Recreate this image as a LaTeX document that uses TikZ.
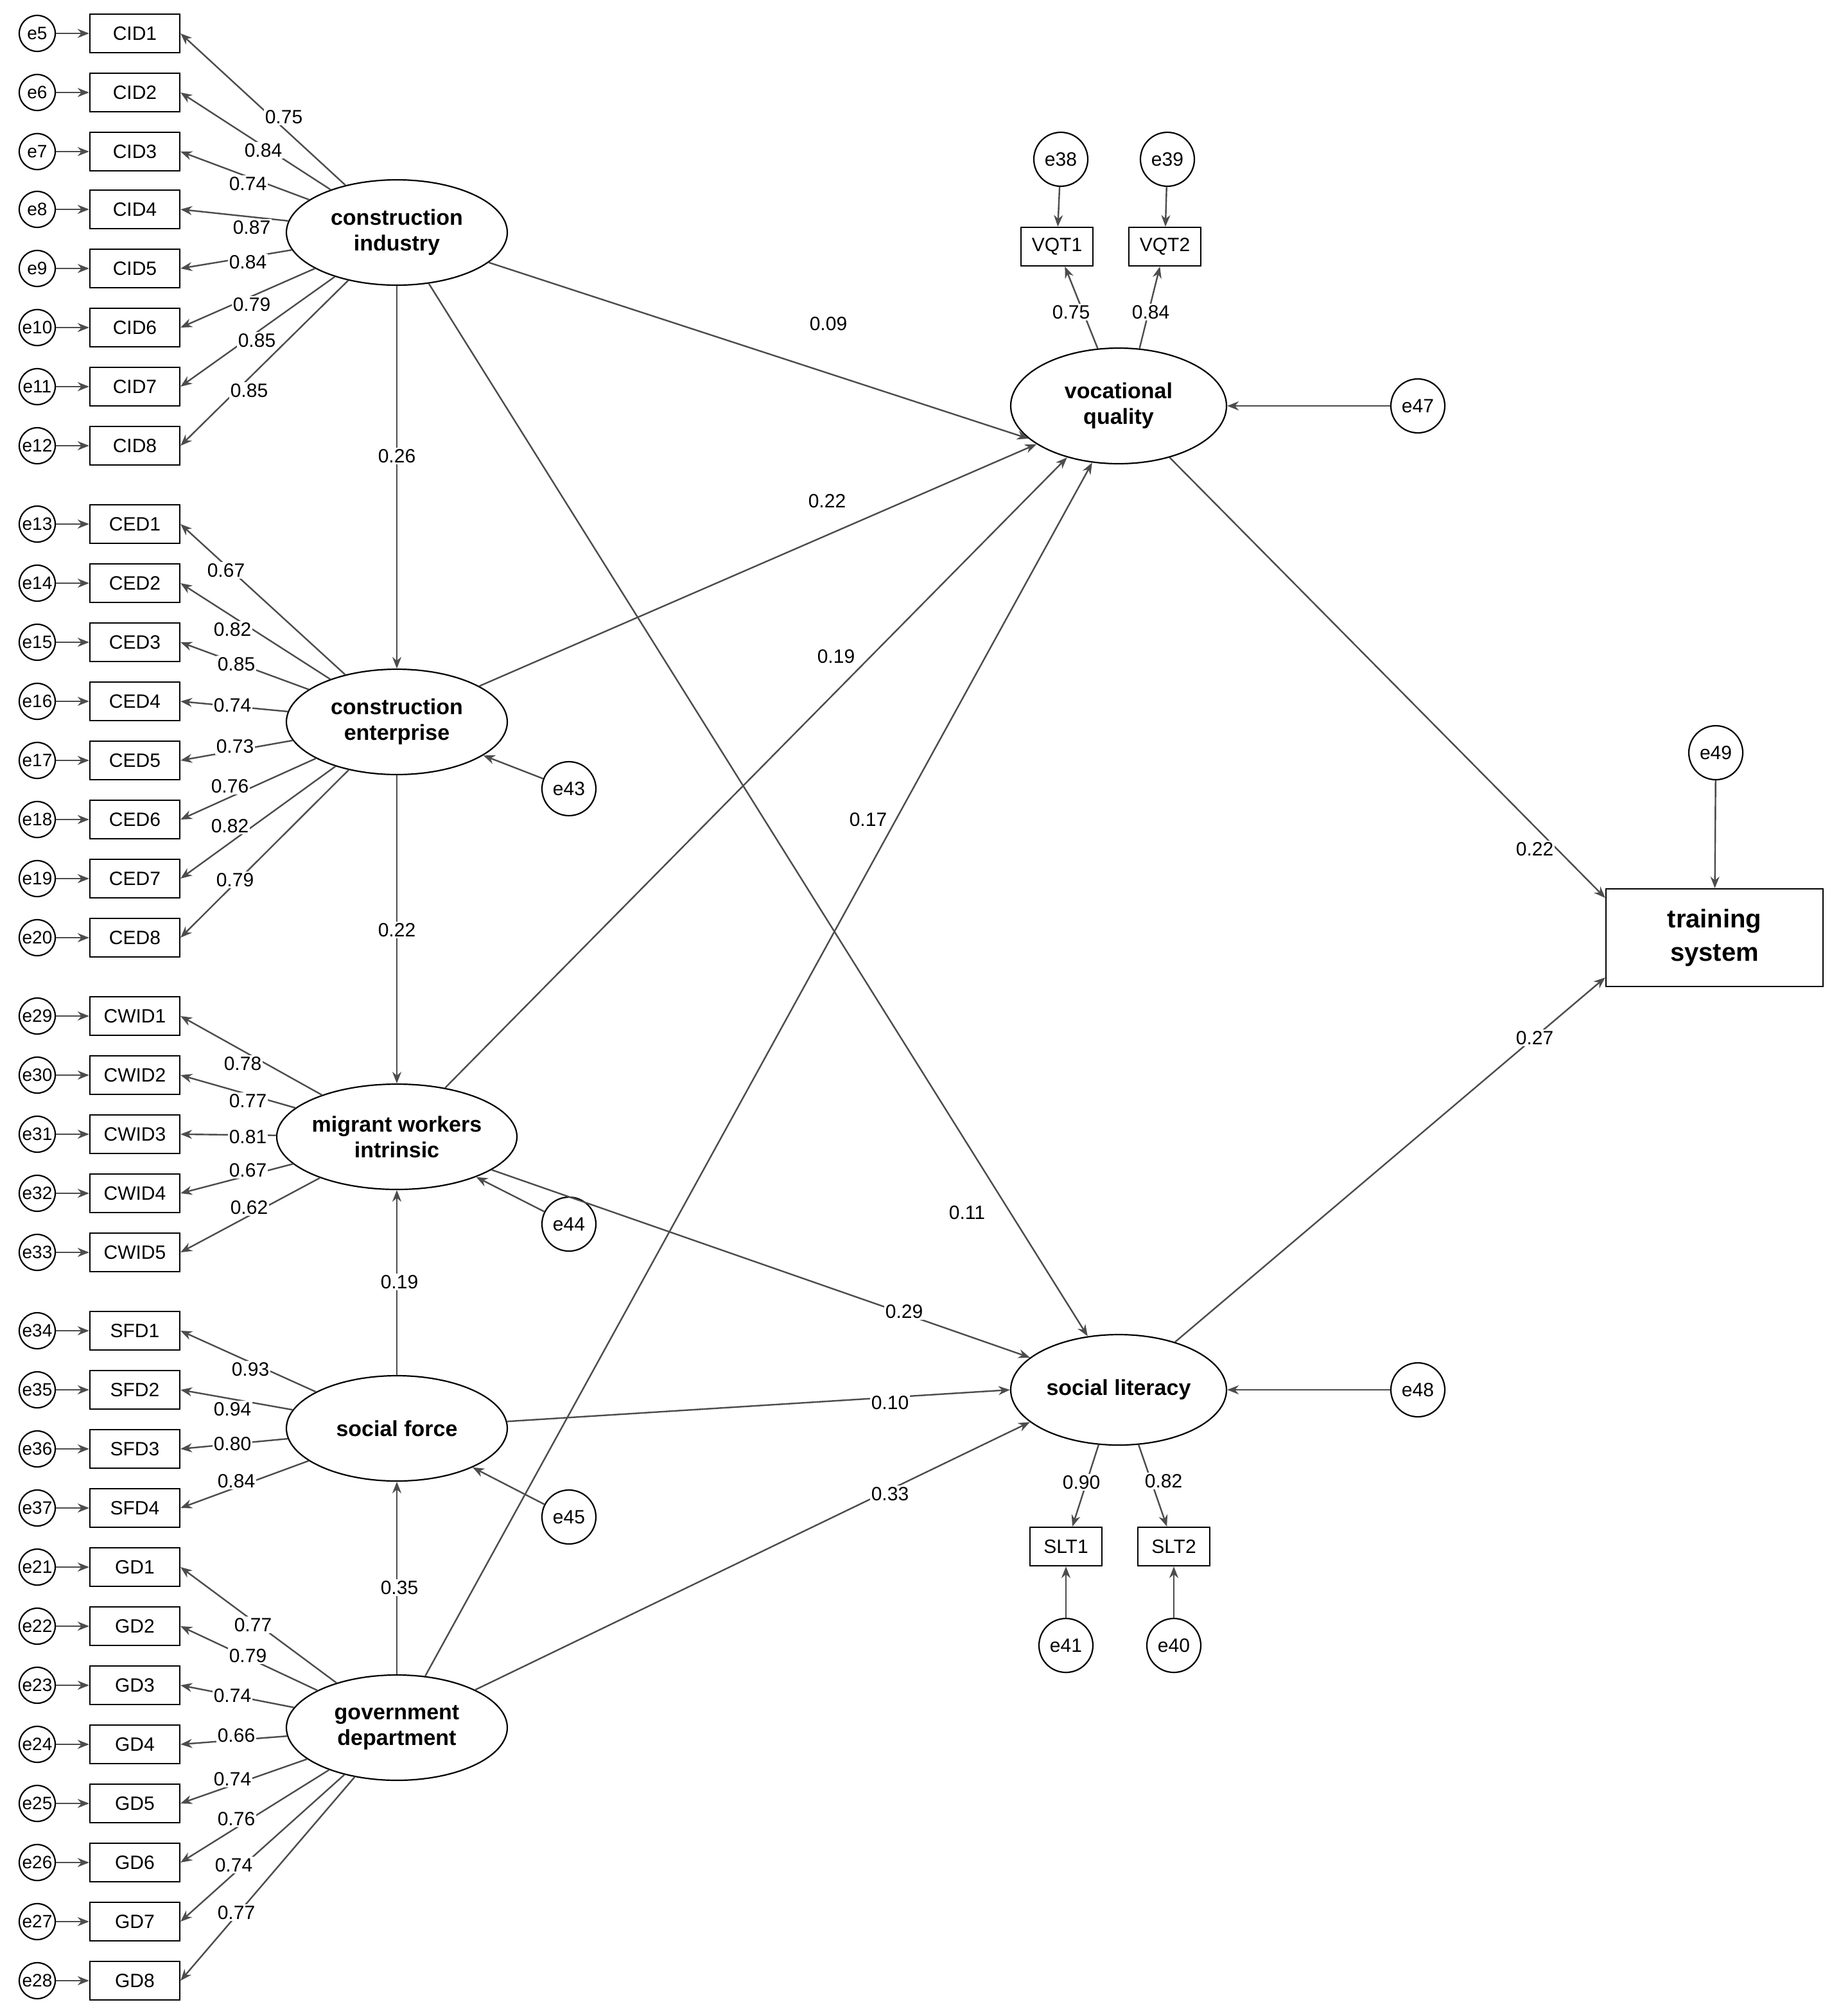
\documentclass[tikz,border=0pt]{standalone}
\usepackage{fontspec}
\setmainfont{Liberation Sans}
\usetikzlibrary{arrows.meta,shapes.geometric}
\begin{document}
\begin{tikzpicture}[x=1pt,y=-1pt,
 ln/.style={draw=black!70,line width=1.2pt,-{Stealth[length=9pt,width=7pt]}},
 ind/.style={draw,line width=1.1pt,minimum width=70pt,minimum height=30pt,inner sep=0,font=\fontsize{15}{15}\selectfont},
 sind/.style={draw,line width=1.1pt,minimum width=56pt,minimum height=30pt,inner sep=0,font=\fontsize{15}{15}\selectfont},
 err/.style={draw,circle,line width=1.1pt,minimum size=28pt,inner sep=0,font=\fontsize{14}{14}\selectfont},
 berr/.style={draw,circle,line width=1.1pt,minimum size=42pt,inner sep=0,font=\fontsize{15}{15}\selectfont},
 lat/.style={draw,ellipse,line width=1.1pt,minimum width=172pt,minimum height=82pt,inner sep=0,align=center,font=\fontsize{17}{20}\bfseries\selectfont},
 lb/.style={font=\fontsize{15}{15}\selectfont,fill=white,inner sep=1pt}]
\useasboundingbox (0,0) rectangle (1433,1569.5);
\fill[white] (0,0) rectangle (1433,1569.5);
% latents
\node[lat] (CI) at (309,181) {construction\\industry};
\node[lat] (CE) at (309,562) {construction\\enterprise};
\node[lat] (MW) at (309,885) {migrant workers\\intrinsic};
\node[lat] (SF) at (309,1112) {social force};
\node[lat] (GD) at (309,1345) {government\\department};
\node[lat,minimum width=168pt,minimum height=90pt] (VQ) at (871,316) {vocational\\quality};
\node[lat,minimum width=168pt,minimum height=86pt] (SL) at (871,1082) {social literacy};
\node[draw,line width=1.1pt,minimum width=169pt,minimum height=76pt,align=center,font=\fontsize{20}{26}\bfseries\selectfont] (TS) at (1335,730) {training\\system};
% indicator groups
\newcommand{\grp}[3]{%
 \foreach \nm/\en/\yy/\lv/\lx/\ly in {#3}{%
  \node[ind] (\nm) at (105,\yy) {\nm};
  \node[err] (e\en) at (29,\yy) {e\en};
  \draw[ln] (e\en) -- (\nm);
  \draw[ln] (#1) -- (\nm.east);
  \node[lb] (l\nm) at (\lx,\ly) {\lv};
 }}
\grp{CI}{}{CID1/5/26/0.75/221/91,CID2/6/72/0.84/205/117,CID3/7/118/0.74/193/143,CID4/8/163/0.87/196/177,CID5/9/209/0.84/193/204,CID6/10/255/0.79/196/237,CID7/11/301/0.85/200/265,CID8/12/347/0.85/194/304}
\grp{CE}{}{CED1/13/408/0.67/176/444,CED2/14/454/0.82/181/490,CED3/15/500/0.85/184/517,CED4/16/546/0.74/181/549,CED5/17/592/0.73/183/581,CED6/18/638/0.76/179/612,CED7/19/684/0.82/179/643,CED8/20/730/0.79/183/685}
\grp{MW}{}{CWID1/29/791/0.78/189/828,CWID2/30/837/0.77/193/857,CWID3/31/883/0.81/193/885,CWID4/32/929/0.67/193/911,CWID5/33/975/0.62/194/940}
\grp{SF}{}{SFD1/34/1036/0.93/195/1066,SFD2/35/1082/0.94/181/1097,SFD3/36/1128/0.80/181/1124,SFD4/37/1174/0.84/184/1153}
\grp{GD}{}{GD1/21/1220/0.77/197/1265,GD2/22/1266/0.79/193/1289,GD3/23/1312/0.74/181/1320,GD4/24/1358/0.66/184/1351,GD5/25/1404/0.74/181/1385,GD6/26/1450/0.76/184/1416,GD7/27/1496/0.74/182/1452,GD8/28/1542/0.77/184/1489}
% VQ and SL indicators
\node[sind] (VQT1) at (823,192) {VQT1};
\node[sind] (VQT2) at (907,192) {VQT2};
\node[sind] (SLT1) at (830,1204) {SLT1};
\node[sind] (SLT2) at (914,1204) {SLT2};
\node[berr] (e38) at (826,124) {e38};
\node[berr] (e39) at (909,124) {e39};
\node[berr] (e41) at (830,1281) {e41};
\node[berr] (e40) at (914,1281) {e40};
\node[berr] (e43) at (443,614) {e43};
\node[berr] (e44) at (443,953) {e44};
\node[berr] (e45) at (443,1181) {e45};
\node[berr] (e47) at (1104,316) {e47};
\node[berr] (e48) at (1104,1082) {e48};
\node[berr] (e49) at (1336,586) {e49};
\draw[ln] (e38) -- (VQT1); \draw[ln] (e39) -- (VQT2);
\draw[ln] (e41) -- (SLT1); \draw[ln] (e40) -- (SLT2);
\draw[ln] (VQ.110) -- (VQT1); \draw[ln] (VQ.70) -- (VQT2);
\draw[ln] (SL.-110) -- (SLT1); \draw[ln] (SL.-70) -- (SLT2);
\node[lb] (l1) at (834,243) {0.75};
\node[lb] (l2) at (896,243) {0.84};
\node[lb] (l3) at (842,1154) {0.90};
\node[lb] (l4) at (906,1153) {0.82};
\draw[ln] (e43) -- (CE); \draw[ln] (e44) -- (MW); \draw[ln] (e45) -- (SF);
\draw[ln] (e47) -- (VQ); \draw[ln] (e48) -- (SL); \draw[ln] (e49) -- (TS);
% structural
\draw[ln] (CI) -- (VQ.200);
\draw[ln] (CI) -- (SL.120);
\draw[ln] (CI) -- (CE);
\draw[ln] (CE) -- (VQ.205);
\draw[ln] (CE) -- (MW);
\draw[ln] (MW) -- (VQ.225);
\draw[ln] (GD) -- (VQ.245);
\draw[ln] (MW) -- (SL.160);
\draw[ln] (SF) -- (SL.180);
\draw[ln] (GD) -- (SL.200);
\draw[ln] (SF) -- (MW);
\draw[ln] (GD) -- (SF);
\draw[ln] (VQ) -- (TS.160);
\draw[ln] (SL) -- (TS.200);
\node[lb] (s1) at (645,252) {0.09};
\node[lb] (s2) at (753,944) {0.11};
\node[lb] (s3) at (309,355) {0.26};
\node[lb] (s4) at (644,390) {0.22};
\node[lb] (s5) at (309,724) {0.22};
\node[lb] (s6) at (651,511) {0.19};
\node[lb] (s7) at (676,638) {0.17};
\node[lb] (s8) at (704,1021) {0.29};
\node[lb] (s9) at (693,1092) {0.10};
\node[lb] (s10) at (693,1163) {0.33};
\node[lb] (s11) at (311,998) {0.19};
\node[lb] (s12) at (311,1236) {0.35};
\node[lb] (s13) at (1195,661) {0.22};
\node[lb] (s14) at (1195,808) {0.27};
\end{tikzpicture}
\end{document}
